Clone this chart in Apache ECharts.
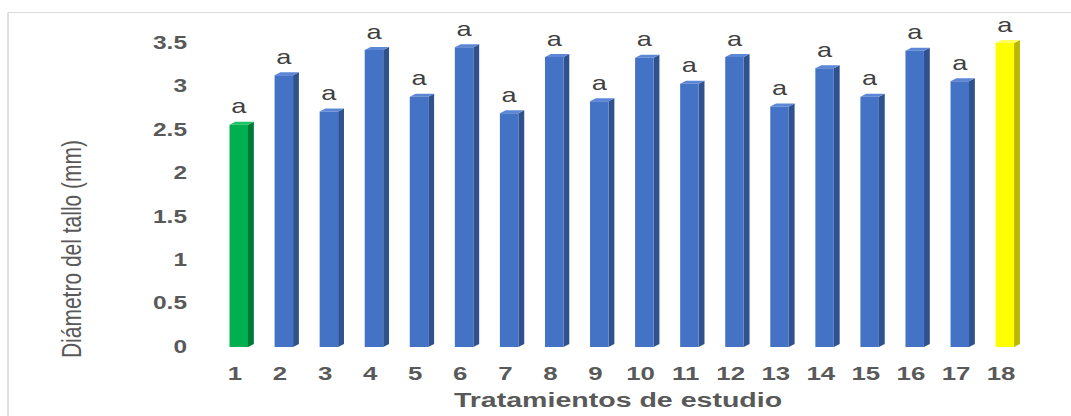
<!DOCTYPE html>
<html>
<head>
<meta charset="utf-8">
<script src="https://cdn.jsdelivr.net/npm/echarts@6/dist/echarts.min.js"></script>
<style>
  html, body { margin: 0; padding: 0; background: #ffffff; overflow: hidden; }
  /* The chart is laid out on a narrower canvas and widened horizontally. */
  #wrap { width: 788px; height: 416px; transform: scaleX(1.35914); transform-origin: 0 0; }
</style>
</head>
<body>
<div id="wrap"></div>
<script>
// Treatments 1..18
const categories = ['1','2','3','4','5','6','7','8','9','10','11','12','13','14','15','16','17','18'];
// Stem diameter (mm) per treatment
const diameters = [2.56, 3.13, 2.71, 3.42, 2.88, 3.45, 2.69, 3.34, 2.83, 3.33, 3.03, 3.34, 2.77, 3.21, 2.88, 3.41, 3.06, 3.50];
// Mean-separation letters
const letters = ['a','a','a','a','a','a','a','a','a','a','a','a','a','a','a','a','a','a'];
// Y axis ticks
const yTicks = [0, 0.5, 1, 1.5, 2, 2.5, 3, 3.5];

const palette = {
  blue:   { front: '#4472C4', side: '#2F528F', top: '#5B87D6' },
  green:  { front: '#00B050', side: '#007A37', top: '#1DC466' },
  yellow: { front: '#FFFF00', side: '#B8B800', top: '#FFFF5A' }
};
function barColors(i) {
  if (i === 0) return palette.green;
  if (i === categories.length - 1) return palette.yellow;
  return palette.blue;
}

// 3D column geometry
const FRONT_X = -4;
const FRONT_W = 13.6;
const DEPTH_X = 4.3;
const DEPTH_Y = 3;

const chart = echarts.init(document.getElementById('wrap'), null, { renderer: 'svg' });

const seriesData = categories.map((c, i) => [i, diameters[i], letters[i]]);

chart.setOption({
  backgroundColor: '#ffffff',
  animation: false,
  graphic: [
    { type: 'line', shape: { x1: 5.9, y1: 12.5, x2: 788, y2: 12.5 }, style: { stroke: '#D9D9D9', lineWidth: 1.2 } },
    { type: 'line', shape: { x1: 5.9, y1: 12.5, x2: 5.9, y2: 416 }, style: { stroke: '#D9D9D9', lineWidth: 1.2 } }
  ],
  grid: { left: 156.3, right: 34.9, top: 43, bottom: 69, containLabel: false },
  xAxis: {
    type: 'category',
    data: categories,
    boundaryGap: true,
    axisLine: { show: false },
    axisTick: { show: false },
    axisLabel: { margin: 17, color: '#595959', fontFamily: 'Liberation Sans', fontWeight: 'bold', fontSize: 19 },
    name: 'Tratamientos de estudio',
    nameLocation: 'middle',
    nameGap: 41.5,
    nameTextStyle: { color: '#595959', fontFamily: 'Liberation Sans', fontWeight: 'bold', fontSize: 21 }
  },
  yAxis: {
    type: 'value',
    min: yTicks[0],
    max: yTicks[yTicks.length - 1],
    interval: yTicks[1] - yTicks[0],
    axisLine: { show: false },
    axisTick: { show: false },
    splitLine: { show: false },
    axisLabel: { margin: 18.7, color: '#595959', fontFamily: 'Liberation Sans', fontWeight: 'bold', fontSize: 18 },
    name: 'Diámetro del tallo (mm)',
    nameLocation: 'middle',
    nameGap: 94,
    nameTextStyle: { color: '#595959', fontFamily: 'Liberation Sans', fontSize: 21, padding: [0, 108, 0, 0] }
  },
  series: [{
    type: 'custom',
    data: seriesData,
    encode: { x: 0, y: 1 },
    renderItem: function (params, api) {
      const idx = api.value(0);
      const val = api.value(1);
      const base = api.coord([idx, 0]);
      const top = api.coord([idx, val]);
      const col = barColors(params.dataIndex);
      const x0 = base[0] + FRONT_X;
      const x1 = x0 + FRONT_W;
      const yT = top[1];
      const yB = base[1];
      return {
        type: 'group',
        children: [
          { type: 'polygon',
            shape: { points: [[x1, yT], [x1 + DEPTH_X, yT - DEPTH_Y], [x1 + DEPTH_X, yB - DEPTH_Y], [x1, yB]] },
            style: { fill: col.side } },
          { type: 'polygon',
            shape: { points: [[x0, yT], [x1, yT], [x1 + DEPTH_X, yT - DEPTH_Y], [x0 + DEPTH_X, yT - DEPTH_Y]] },
            style: { fill: col.top } },
          { type: 'rect',
            shape: { x: x0, y: yT, width: FRONT_W, height: yB - yT },
            style: { fill: col.front } },
          { type: 'text',
            style: { text: letters[params.dataIndex], x: (x0 + x1) / 2, y: yT - 8.5,
                     align: 'center', verticalAlign: 'bottom',
                     fill: '#404040', fontFamily: 'Liberation Sans', fontSize: 20 } }
        ]
      };
    }
  }]
});
</script>
</body>
</html>
